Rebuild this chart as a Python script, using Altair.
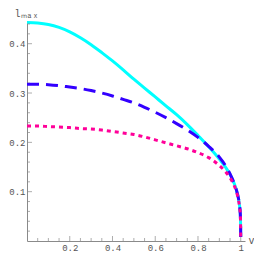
import altair as alt
import pandas as pd

v = [0, 0.05, 0.1, 0.15, 0.2, 0.25, 0.3, 0.35, 0.4, 0.45, 0.5, 0.55, 0.6, 0.65,
     0.7, 0.75, 0.8, 0.85, 0.9, 0.93, 0.95, 0.97, 0.98, 0.99, 0.995, 0.998, 0.9995, 1.0]
cyan = [0.443, 0.442, 0.439, 0.433, 0.424, 0.412, 0.398, 0.382, 0.365, 0.347, 0.328,
        0.310, 0.292, 0.274, 0.256, 0.236, 0.214, 0.191, 0.166, 0.149, 0.135, 0.116,
        0.103, 0.085, 0.070, 0.055, 0.030, 0.008]
blue = [0.318, 0.318, 0.317, 0.315, 0.312, 0.309, 0.305, 0.300, 0.294, 0.287, 0.280,
        0.271, 0.261, 0.250, 0.238, 0.225, 0.210, 0.192, 0.170, 0.152, 0.136, 0.116,
        0.103, 0.085, 0.070, 0.055, 0.030, 0.008]
pink = [0.233, 0.233, 0.232, 0.231, 0.230, 0.228, 0.227, 0.225, 0.222, 0.219, 0.216,
        0.211, 0.205, 0.199, 0.193, 0.187, 0.179, 0.169, 0.153, 0.140, 0.128, 0.112,
        0.100, 0.082, 0.068, 0.054, 0.030, 0.008]

x_major = [0.2, 0.4, 0.6, 0.8, 1.0]
x_minor = [0.05, 0.1, 0.15, 0.25, 0.3, 0.35, 0.45, 0.5, 0.55, 0.65, 0.7, 0.75, 0.85, 0.9, 0.95]
y_major = [0.1, 0.2, 0.3, 0.4]
y_minor = [0.02, 0.04, 0.06, 0.08, 0.12, 0.14, 0.16, 0.18, 0.22, 0.24, 0.26, 0.28,
           0.32, 0.34, 0.36, 0.38, 0.42, 0.44]

W, H = 218, 220
FONT = "Liberation Mono"
GREY = "#555555"
AX = "#8a8a8a"

xs = alt.Scale(domain=[0, 1.02], nice=False, zero=False)
ys = alt.Scale(domain=[0, 0.446], nice=False, zero=False)

xaxis = alt.Axis(values=x_major, labelExpr="datum.value == 1 ? '1' : format(datum.value, '.1f')",
                 labelFont=FONT, labelFontSize=9, labelColor=GREY, domainColor=AX,
                 ticks=False, grid=False, labelPadding=2, labelFlush=False,
                 title="v", titleFont=FONT, titleFontSize=10, titleFontWeight="normal",
                 titleColor=GREY, titleAlign="left", titleBaseline="alphabetic",
                 titleX=W + 3, titleY=2, titleAnchor="start")
yaxis = alt.Axis(values=y_major, format=".1f",
                 labelFont=FONT, labelFontSize=9, labelColor=GREY, domainColor=AX,
                 ticks=False, grid=False, labelPadding=2, labelFlush=False,
                 title="lₘₐₓ", titleFont=FONT, titleFontSize=10, titleFontWeight="normal",
                 titleColor=GREY, titleAngle=0, titleAlign="left", titleBaseline="top",
                 titleX=-13, titleY=-13, titleAnchor="start")

df_c = pd.DataFrame({"v": v, "l": cyan})
df_b = pd.DataFrame({"v": v, "l": blue})
df_p = pd.DataFrame({"v": v, "l": pink})

base_axes = alt.Chart(df_c).mark_line(color="#00FFFF", strokeWidth=3, interpolate="monotone").encode(
    x=alt.X("v:Q", scale=xs, axis=xaxis),
    y=alt.Y("l:Q", scale=ys, axis=yaxis),
)
blue_line = alt.Chart(df_b).mark_line(color="#3300FF", strokeWidth=3, strokeDash=[12, 7],
                                      interpolate="monotone").encode(x="v:Q", y="l:Q")
pink_line = alt.Chart(df_p).mark_line(color="#FF0099", strokeWidth=3, strokeDash=[4, 4],
                                      interpolate="monotone").encode(x="v:Q", y="l:Q")

xt_major = alt.Chart(pd.DataFrame({"t": x_major})).mark_tick(
    orient="vertical", size=5, yOffset=-2.5, thickness=1, color=AX).encode(
    x="t:Q", y=alt.datum(0))
xt_minor = alt.Chart(pd.DataFrame({"t": x_minor})).mark_tick(
    orient="vertical", size=3, yOffset=-1.5, thickness=1, color=AX).encode(
    x="t:Q", y=alt.datum(0))
yt_major = alt.Chart(pd.DataFrame({"t": y_major})).mark_tick(
    orient="horizontal", size=5, xOffset=2.5, thickness=1, color=AX).encode(
    y="t:Q", x=alt.datum(0))
yt_minor = alt.Chart(pd.DataFrame({"t": y_minor})).mark_tick(
    orient="horizontal", size=3, xOffset=1.5, thickness=1, color=AX).encode(
    y="t:Q", x=alt.datum(0))

chart = alt.layer(base_axes, xt_major, xt_minor, yt_major, yt_minor, blue_line, pink_line).properties(
    width=W, height=H,
    autosize=alt.AutoSizeParams(type="none"),
    padding={"left": 19, "top": 13, "right": 9, "bottom": 13},
    background="white",
).configure_view(stroke=None)

chart.save("out.html", embed_options={"renderer": "svg", "actions": False})
